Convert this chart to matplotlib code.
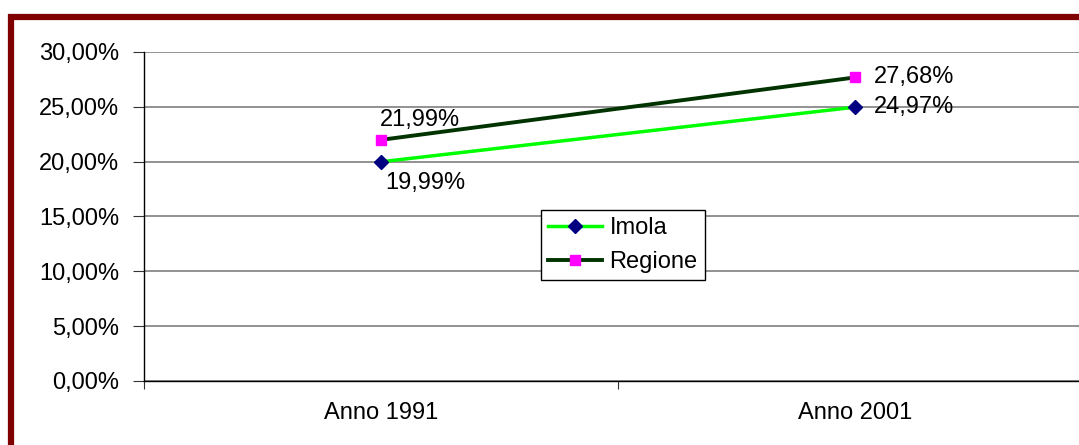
import matplotlib
matplotlib.use("Agg")
import matplotlib.pyplot as plt
from matplotlib.patches import Rectangle

plt.rcParams["font.family"] = ["Liberation Sans", "DejaVu Sans"]
plt.rcParams["font.size"] = 17

categories = ["Anno 1991", "Anno 2001"]
imola = [19.99, 24.97]
regione = [21.99, 27.68]
yticks = [0, 5, 10, 15, 20, 25, 30]

W, H = 1079, 445
fig = plt.figure(figsize=(W / 100, H / 100), dpi=100)
fig.patch.set_facecolor("white")

# dark red frame round the chart, cut off at right and bottom
fig.patches.append(Rectangle((11 / W, -0.1), 1.2, 1 - 17 / H + 0.1,
                             transform=fig.transFigure, fill=False,
                             edgecolor="#800000", lw=4.5, zorder=0))

ax = fig.add_axes([144 / W, 1 - 381 / H, 948 / W, 329 / H])
x = range(len(categories))
ax.plot(x, imola, color="#00ff00", lw=2.5, marker="D", ms=7,
        mfc="#000080", mec="#000080", label="Imola", zorder=3)
ax.plot(x, regione, color="#003300", lw=2.8, marker="s", ms=7,
        mfc="#ff00ff", mec="#ff00ff", label="Regione", zorder=3)

fmt = lambda v: f"{v:.2f}".replace(".", ",") + "%"
ax.annotate(fmt(regione[0]), (0, regione[0]), xytext=(39, 20),
            textcoords="offset pixels", ha="center", va="center")
ax.annotate(fmt(imola[0]), (0, imola[0]), xytext=(44, -21),
            textcoords="offset pixels", ha="center", va="center")
ax.annotate(fmt(regione[1]), (1, regione[1]), xytext=(19, 0),
            textcoords="offset pixels", ha="left", va="center")
ax.annotate(fmt(imola[1]), (1, imola[1]), xytext=(19, 0),
            textcoords="offset pixels", ha="left", va="center")

ax.set_xlim(-0.5, 1.5)
ax.set_ylim(0, 30)
ax.set_yticks(yticks)
ax.set_yticklabels([f"{v},00%" for v in yticks])
ax.set_xticks([-0.5, 0.5, 1.5])
ax.set_xticklabels([])
ax.set_xticks(list(x), minor=True)
ax.set_xticklabels(categories, minor=True)
ax.tick_params(axis="x", which="minor", length=0, pad=15)
ax.tick_params(axis="x", which="major", length=6, direction="out", color="#333333")
ax.tick_params(axis="y", length=8, direction="out", color="#333333", pad=10)
ax.yaxis.grid(True, color="#7f7f7f", lw=1.2)
ax.set_axisbelow(True)
for s in ["top", "right"]:
    ax.spines[s].set_visible(False)
ax.spines["left"].set_color("#000000")
ax.spines["bottom"].set_color("#000000")
ax.spines["left"].set_linewidth(1)
ax.spines["bottom"].set_linewidth(1)

leg = ax.legend(loc="upper left", bbox_to_anchor=(541 / W, 1 - 210 / H),
                bbox_transform=fig.transFigure, borderaxespad=0,
                fancybox=False, edgecolor="#000000", framealpha=1,
                handlelength=2.3, fontsize=17, borderpad=0.3,
                labelspacing=0.5, handletextpad=0.3)
leg.get_frame().set_linewidth(1)

fig.savefig("out.png", dpi=100)
